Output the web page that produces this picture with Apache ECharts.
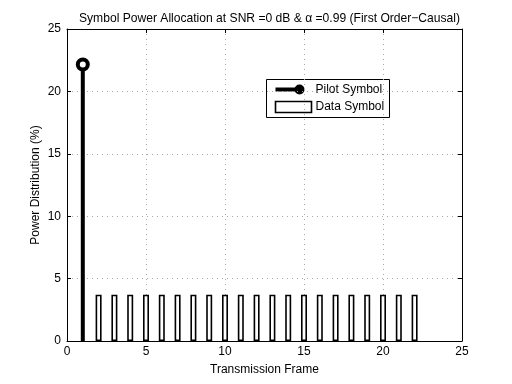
<!DOCTYPE html>
<html>
<head>
<meta charset="utf-8">
<script src="https://cdn.jsdelivr.net/npm/echarts@6/dist/echarts.min.js"></script>
<style>
html, body { margin: 0; padding: 0; background: #fff; }
#chart { width: 512px; height: 384px; }
</style>
</head>
<body>
<div id="chart"></div>
<script>
var titleText = "Symbol Power Allocation at SNR =0 dB & \u03b1 =0.99 (First Order\u2212Causal)";
var pilotFrame = [1];
var pilotPower = [22.15];
var dataFrames = [2, 3, 4, 5, 6, 7, 8, 9, 10, 11, 12, 13, 14, 15, 16, 17, 18, 19, 20, 21, 22];
var dataPower = [3.71, 3.71, 3.71, 3.71, 3.71, 3.71, 3.71, 3.71, 3.71, 3.71, 3.71, 3.71, 3.71,
  3.71, 3.71, 3.71, 3.71, 3.71, 3.71, 3.71, 3.71];

var font = "Liberation Sans";
var myChart = echarts.init(document.getElementById("chart"));

var gridLine = { show: true, lineStyle: { color: "#a8a8a8", type: [1, 4], width: 1 } };
var axisBox = { show: true, onZero: false, lineStyle: { color: "#000", width: 1 } };

var barData = dataFrames.map(function (f, i) { return [f, dataPower[i]]; });
var stemData = [
  { value: [pilotFrame[0], 0], symbol: "none" },
  { value: [pilotFrame[0], pilotPower[0]], symbol: "circle", symbolSize: 10 }
];

var option = {
  animation: false,
  backgroundColor: "#fff",
  title: {
    text: titleText,
    left: 74,
    top: 8,
    textStyle: { fontFamily: font, fontSize: 12.1, fontWeight: "normal", color: "#000" }
  },
  grid: { left: 67, right: 50, top: 29, bottom: 43 },
  xAxis: [{
    type: "value", min: 0, max: 25, interval: 5,
    name: "Transmission Frame", nameLocation: "middle", nameGap: 23, nameMoveOverlap: false,
    nameTextStyle: { fontFamily: font, fontSize: 12, color: "#000" },
    axisLine: axisBox,
    axisTick: { show: true, inside: true, length: 4, lineStyle: { color: "#000" } },
    axisLabel: { fontFamily: font, fontSize: 12, color: "#000", margin: 5 },
    splitLine: gridLine
  }, {
    type: "value", min: 0, max: 25, interval: 5, position: "top",
    axisLine: axisBox,
    axisTick: { show: true, inside: true, length: 4, lineStyle: { color: "#000" } },
    axisLabel: { show: false },
    splitLine: { show: false }
  }],
  yAxis: [{
    type: "value", min: 0, max: 25, interval: 5,
    name: "Power Distribution (%)", nameLocation: "middle", nameGap: 25, nameMoveOverlap: false,
    nameTextStyle: { fontFamily: font, fontSize: 12, color: "#000" },
    axisLine: axisBox,
    axisTick: { show: true, inside: true, length: 4, lineStyle: { color: "#000" } },
    axisLabel: { fontFamily: font, fontSize: 12, color: "#000", margin: 6 },
    splitLine: gridLine
  }, {
    type: "value", min: 0, max: 25, interval: 5, position: "right",
    axisLine: axisBox,
    axisTick: { show: true, inside: true, length: 4, lineStyle: { color: "#000" } },
    axisLabel: { show: false },
    splitLine: { show: false }
  }],
  series: [{
    name: "Data Symbol",
    type: "bar",
    data: barData,
    barWidth: 6,
    itemStyle: { color: "#fff", borderColor: "#000", borderWidth: 1.6 }
  }, {
    name: "Pilot Symbol",
    type: "line",
    data: stemData,
    lineStyle: { color: "#000", width: 4 },
    itemStyle: { color: "#fff", borderColor: "#000", borderWidth: 4 },
    z: 5
  }],
  graphic: [{
    type: "group", left: 266, top: 79,
    children: [
      { type: "rect", shape: { x: 0, y: 0, width: 123, height: 38 }, style: { fill: "#fff", stroke: "#000", lineWidth: 1 } },
      { type: "line", shape: { x1: 9, y1: 10, x2: 33, y2: 10 }, style: { stroke: "#000", lineWidth: 4 } },
      { type: "circle", shape: { cx: 33, cy: 10, r: 5 }, style: { fill: "#000" } },
      { type: "text", style: { x: 49, y: 10, text: "Pilot Symbol", fontFamily: font, fontSize: 12, fill: "#000", verticalAlign: "middle" } },
      { type: "rect", shape: { x: 9, y: 22, width: 36, height: 11 }, style: { fill: "#fff", stroke: "#000", lineWidth: 1.6 } },
      { type: "text", style: { x: 49, y: 27.5, text: "Data Symbol", fontFamily: font, fontSize: 12, fill: "#000", verticalAlign: "middle" } }
    ]
  }]
};

myChart.setOption(option);
</script>
</body>
</html>
